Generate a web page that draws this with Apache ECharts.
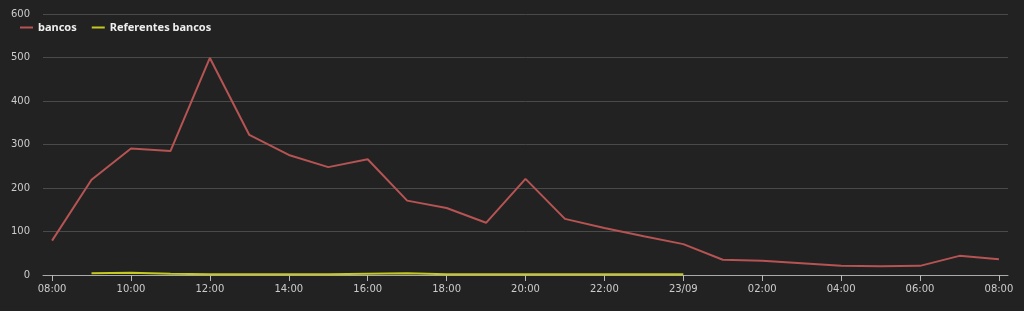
<!DOCTYPE html>
<html><head><meta charset="utf-8">
<script src="https://cdn.jsdelivr.net/npm/echarts@6/dist/echarts.min.js"></script>
<style>html,body{margin:0;padding:0;background:#222222;}#c{width:1024px;height:311px;}</style>
</head><body><div id="c"></div>
<script>
const categories = ['08:00','09:00','10:00','11:00','12:00','13:00','14:00','15:00','16:00','17:00','18:00','19:00','20:00','21:00','22:00','23:00','23/09','01:00','02:00','03:00','04:00','05:00','06:00','07:00','08:00'];
const bancos = [79,219,291,285,499,322,276,248,266,171,154,120,221,129,108,89,71,35,33,27,21,20,21,44,36];
const referentes = [null,4,5,3,2,2,2,2,3,4,2,2,2,2,2,2,2];
const tickIdx = [0,2,4,6,8,10,12,14,16,18,20,22,24];

const chart = echarts.init(document.getElementById('c'));
chart.setOption({
  backgroundColor:'#222222',
  animation:false,
  legend:{left:15,top:17,itemWidth:13,itemHeight:2,itemGap:15,icon:'rect',
    textStyle:{color:'#eeeeee',fontSize:11,fontWeight:'bold',fontFamily:'Noto Sans'},
    data:['bancos','Referentes bancos']},
  grid:{left:43,right:16,top:14,bottom:36},
  xAxis:{type:'value',min:-0.23,max:24.23,
    axisLine:{lineStyle:{color:'#aaaaaa',width:1}},
    axisTick:{show:true,length:6,lineStyle:{color:'#bbbbbb'},customValues:tickIdx},
    axisLabel:{color:'#cccccc',fontSize:10,fontFamily:'DejaVu Sans',margin:9,customValues:tickIdx,
      formatter:v=>categories[Math.round(v)]},
    splitLine:{show:false}},
  yAxis:{type:'value',min:0,max:600,interval:100,
    axisLine:{show:false},axisTick:{show:false},
    axisLabel:{color:'#cccccc',fontSize:10,fontFamily:'DejaVu Sans',margin:13},
    splitLine:{lineStyle:{color:'#4a4a4a',width:1}}},
  series:[
    {name:'bancos',type:'line',showSymbol:false,symbol:'none',
      data:bancos.map((v,i)=>[i,v]),lineStyle:{color:'#b65353',width:2},itemStyle:{color:'#b65353'}},
    {name:'Referentes bancos',type:'line',showSymbol:false,symbol:'none',
      data:referentes.map((v,i)=>[i,v]),lineStyle:{color:'#c5c81f',width:2},itemStyle:{color:'#c5c81f'}}
  ]
});
</script></body></html>
